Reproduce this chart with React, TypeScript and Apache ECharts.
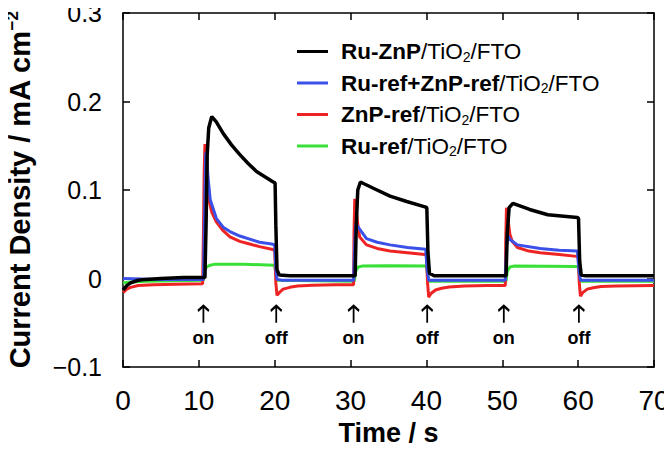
import React, { useEffect, useRef } from "react";
import * as echarts from "echarts";

const seriesNames = [
  "Ru-ZnP/TiO2/FTO",
  "Ru-ref+ZnP-ref/TiO2/FTO",
  "ZnP-ref/TiO2/FTO",
  "Ru-ref/TiO2/FTO",
];

const legendRich: Record<string, string> = {
  "Ru-ZnP/TiO2/FTO": "{b|Ru-ZnP}{n|/TiO}{s|2}{n|/FTO}",
  "Ru-ref+ZnP-ref/TiO2/FTO": "{b|Ru-ref+ZnP-ref}{n|/TiO}{s|2}{n|/FTO}",
  "ZnP-ref/TiO2/FTO": "{b|ZnP-ref}{n|/TiO}{s|2}{n|/FTO}",
  "Ru-ref/TiO2/FTO": "{b|Ru-ref}{n|/TiO}{s|2}{n|/FTO}",
};

const ruZnP: [number, number][] = [
  [0, -0.013], [0.5, -0.008], [1, -0.005], [2, -0.002], [3, -0.001], [5, 0.0], [8, 0.001], [10.8, 0.001],
  [10.95, 0.06], [11.1, 0.14], [11.3, 0.17], [11.7, 0.183], [12.3, 0.177], [13.2, 0.164], [14.3, 0.151],
  [15.4, 0.14], [16.5, 0.13], [17.6, 0.121], [18.7, 0.115], [19.8, 0.109], [20.05, 0.108], [20.15, 0.06],
  [20.3, 0.01], [20.6, 0.004], [22, 0.003], [30.6, 0.003], [30.75, 0.06], [30.95, 0.1], [31.3, 0.109],
  [33, 0.102], [35.2, 0.093], [37.4, 0.087], [39.8, 0.081], [40.05, 0.08], [40.2, 0.03], [40.4, 0.006],
  [41, 0.003], [50.5, 0.003], [50.65, 0.05], [50.9, 0.08], [51.4, 0.085], [53.6, 0.078], [56, 0.072],
  [59.9, 0.069], [60.05, 0.068], [60.2, 0.02], [60.4, 0.004], [61, 0.003], [70, 0.003],
];

const ruRefZnPRef: [number, number][] = [
  [0, 0.0], [5, -0.001], [10.6, -0.001], [10.75, 0.07], [10.9, 0.14], [11.0, 0.143], [11.2, 0.115],
  [11.5, 0.089], [12.3, 0.068], [13.2, 0.058], [14.1, 0.053], [15.4, 0.048], [16.7, 0.0445], [18, 0.041],
  [19.6, 0.039], [20.0, 0.038], [20.15, 0.01], [20.3, -0.001], [21, -0.002], [30.4, -0.002], [30.55, 0.04],
  [30.7, 0.062], [31, 0.058], [32.1, 0.045], [33.5, 0.041], [35.2, 0.038], [37.5, 0.035], [39.9, 0.033],
  [40.1, 0.01], [40.3, -0.002], [41, -0.002], [50.4, -0.002], [50.55, 0.035], [50.7, 0.049], [51, 0.044],
  [52, 0.038], [55, 0.034], [57.5, 0.032], [59.9, 0.031], [60.1, 0.01], [60.3, -0.002], [70, -0.002],
];

const znpRef: [number, number][] = [
  [0, -0.016], [0.5, -0.012], [1, -0.01], [2, -0.008], [4, -0.007], [7, -0.0065], [10.5, -0.006],
  [10.6, 0.05], [10.7, 0.12], [10.8, 0.152], [11.0, 0.12], [11.3, 0.09], [11.7, 0.075], [12.3, 0.064],
  [13.2, 0.054], [14.1, 0.047], [15.4, 0.042], [16.7, 0.039], [18, 0.036], [19.6, 0.033], [20.0, 0.032],
  [20.15, -0.005], [20.3, -0.019], [20.6, -0.016], [21.1, -0.012], [22, -0.01], [23, -0.0085], [25, -0.0075],
  [28, -0.007], [30.4, -0.007], [30.45, 0.05], [30.55, 0.09], [30.7, 0.08], [31, 0.058], [31.2, 0.047],
  [32.1, 0.038], [33.5, 0.034], [35.2, 0.031], [37.5, 0.029], [39.8, 0.027], [40.0, 0.026], [40.15, -0.005],
  [40.3, -0.021], [40.6, -0.017], [41.2, -0.013], [42, -0.011], [43, -0.0095], [45, -0.0085], [48, -0.008],
  [50.4, -0.008], [50.45, 0.04], [50.55, 0.08], [50.7, 0.07], [51, 0.05], [51.3, 0.042], [52, 0.035],
  [53.5, 0.031], [55, 0.029], [57.5, 0.027], [59.8, 0.025], [60.0, 0.025], [60.15, -0.005], [60.3, -0.02],
  [60.6, -0.016], [61.2, -0.012], [62, -0.0105], [63, -0.009], [65, -0.0085], [70, -0.008],
];

const ruRef: [number, number][] = [
  [0, -0.005], [1, -0.004], [3, -0.003], [10.6, -0.002], [10.75, 0.008], [11, 0.013], [11.5, 0.015],
  [12, 0.016], [16, 0.016], [20.0, 0.015], [20.15, 0.005], [20.3, -0.002], [30.5, -0.003], [30.65, 0.008],
  [31, 0.013], [31.5, 0.014], [35, 0.0145], [40, 0.014], [40.15, 0.004], [40.3, -0.003], [50.5, -0.003],
  [50.65, 0.008], [51, 0.013], [51.5, 0.014], [60, 0.0135], [60.15, 0.004], [60.3, -0.003], [70, -0.003],
];

const switchEvents: [number, number, string][] = [
  [10.6, -0.0405, "on"],
  [20.2, -0.0405, "off"],
  [30.4, -0.0405, "on"],
  [40.1, -0.0405, "off"],
  [50.2, -0.0405, "on"],
  [60.1, -0.0405, "off"],
];

const colors = ["#000000", "#3a50e8", "#ee2424", "#38e038"];
const FONT = "'Liberation Sans', Arial, sans-serif";

export default function App() {
  const ref = useRef<HTMLDivElement>(null);
  useEffect(() => {
    if (!ref.current) return;
    const chart = echarts.init(ref.current, undefined, { renderer: "svg" });
    const axisLine = { show: true, onZero: false, lineStyle: { color: "#000", width: 1.5 } };
    const tick = { show: true, inside: true, length: 7, lineStyle: { color: "#000", width: 1.5 } };
    const dataSets = [ruZnP, ruRefZnPRef, znpRef, ruRef];
    const lineSeries = dataSets.map((d, i) => ({
      name: seriesNames[i],
      type: "line",
      data: d,
      showSymbol: false,
      color: colors[i],
      lineStyle: { color: colors[i], width: i === 0 ? 3.5 : 3 },
      z: 10 - i,
    }));
    chart.setOption({
      animation: false,
      textStyle: { fontFamily: FONT },
      grid: { left: 123, right: 18, top: 13, bottom: 82, containLabel: false, outerBoundsMode: "none" },
      legend: {
        data: seriesNames,
        orient: "vertical",
        left: 292,
        top: 35,
        icon: "rect",
        itemWidth: 31,
        itemHeight: 3,
        itemGap: 8,
        formatter: (n: string) => legendRich[n],
        textStyle: {
          padding: [0, 0, 0, 8],
          rich: {
            b: { fontSize: 22.5, fontWeight: "bold", fontFamily: FONT, color: "#000", lineHeight: 24, verticalAlign: "middle" },
            n: { fontSize: 22.5, fontFamily: FONT, color: "#000", lineHeight: 24, verticalAlign: "middle" },
            s: { fontSize: 14, fontFamily: FONT, color: "#000", lineHeight: 13, verticalAlign: "bottom" },
          },
        },
      },
      xAxis: [
        {
          type: "value",
          min: 0,
          max: 70,
          interval: 10,
          position: "bottom",
          axisLine,
          axisTick: tick,
          splitLine: { show: false },
          axisLabel: { fontSize: 28, color: "#000", fontFamily: FONT, margin: 19 },
          name: "Time / s",
          nameLocation: "middle",
          nameGap: 52,
          nameTextStyle: { fontSize: 27, fontWeight: "bold", color: "#000", fontFamily: FONT, lineHeight: 28 },
        },
        {
          type: "value",
          min: 0,
          max: 70,
          interval: 10,
          position: "top",
          axisLine,
          axisTick: tick,
          splitLine: { show: false },
          axisLabel: { show: false },
        },
      ],
      yAxis: [
        {
          type: "value",
          min: -0.1,
          max: 0.3,
          interval: 0.1,
          position: "left",
          axisLine,
          axisTick: tick,
          splitLine: { show: false },
          axisLabel: {
            fontSize: 25,
            color: "#000",
            fontFamily: FONT,
            margin: 21,
            padding: [3, 0, 0, 0],
            formatter: (v: number) => {
              const r = Math.round(v * 10) / 10;
              if (r === 0) return "0";
              return r < 0 ? "\u2212" + Math.abs(r).toFixed(1) : r.toFixed(1);
            },
          },
          name: "{t|Current Density / mA cm}{sup|\u22122}",
          nameLocation: "middle",
          nameGap: 87,
          nameRotate: 90,
          nameTextStyle: {
            rich: {
              t: { fontSize: 29, fontWeight: "bold", color: "#000", fontFamily: FONT, lineHeight: 32, verticalAlign: "middle" },
              sup: { fontSize: 17, fontWeight: "bold", color: "#000", fontFamily: FONT, lineHeight: 17, verticalAlign: "top" },
            },
          },
        },
        {
          type: "value",
          min: -0.1,
          max: 0.3,
          interval: 0.1,
          position: "right",
          axisLine,
          axisTick: tick,
          splitLine: { show: false },
          axisLabel: { show: false },
        },
      ],
      series: [
        ...lineSeries.slice().reverse(),
        {
          name: "switch",
          type: "scatter",
          data: switchEvents.map((e) => ({ value: [e[0], e[1]], label: { formatter: e[2] } })),
          symbol: "path://M5,0 L5,20 M0,6 L5,0 L10,6",
          symbolSize: [11, 17],
          symbolKeepAspect: false,
          itemStyle: { color: "none", borderColor: "#000", borderWidth: 2.2, opacity: 1 },
          label: {
            show: true,
            position: "bottom",
            distance: 3,
            fontSize: 18,
            fontWeight: "bold",
            color: "#000",
            fontFamily: FONT,
          },
          z: 20,
          silent: true,
        },
      ],
    });
    return () => chart.dispose();
  }, []);
  return <div ref={ref} style={{ width: 672, height: 449, marginLeft: -8, marginTop: -8 }} />;
}
